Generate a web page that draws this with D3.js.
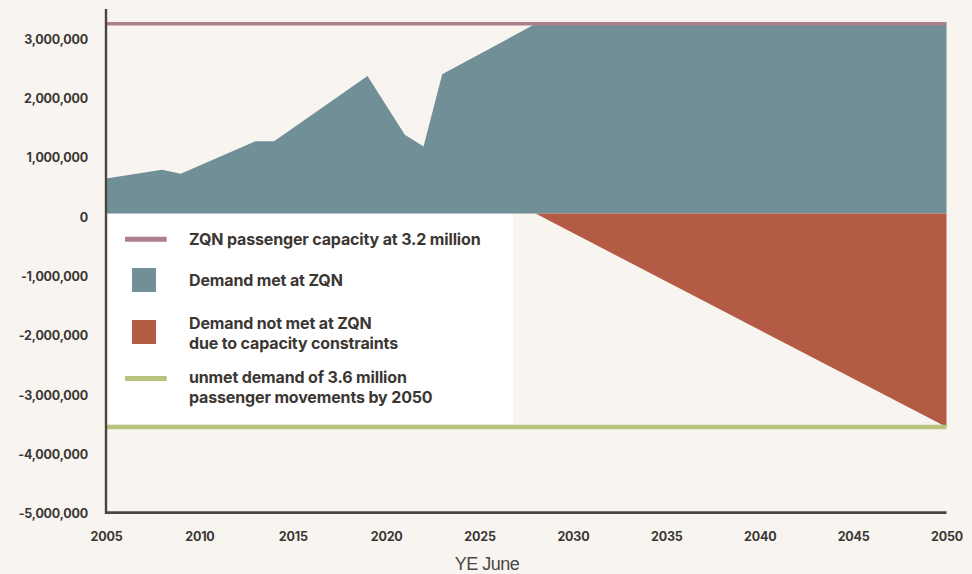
<!DOCTYPE html>
<html>
<head>
<meta charset="utf-8">
<script src="https://cdn.jsdelivr.net/npm/d3@7"></script>
<style>
  body { margin: 0; background: #f8f5f0; }
  svg { display: block; }
</style>
</head>
<body>
<div id="chart"></div>
<script>
// passengers, YE June
var demandYears = [2005, 2008, 2009, 2013, 2014, 2019, 2021, 2022, 2023, 2028, 2050];
var demandMet = [590000, 740000, 670000, 1220000, 1220000, 2320000, 1330000, 1130000, 2350000, 3200000, 3200000];

var unmetYears = [2028, 2050];
var unmetDemand = [0, -3600000];

var capacity = 3200000;
var unmetBy2050 = -3600000;

var xTicks = [2005, 2010, 2015, 2020, 2025, 2030, 2035, 2040, 2045, 2050];
var yTicks = [3000000, 2000000, 1000000, 0, -1000000, -2000000, -3000000, -4000000, -5000000];

var legendLabels = [
  ["ZQN passenger capacity at 3.2 million"],
  ["Demand met at ZQN"],
  ["Demand not met at ZQN", "due to capacity constraints"],
  ["unmet demand of 3.6 million", "passenger movements by 2050"]
];

var width = 972, height = 574;
var teal = "#718f96", red = "#b35b44", pink = "#ad808d", green = "#b8c37f";
var ink = "#3b3734", axisCol = "#4a4540";

var svg = d3.select("#chart").append("svg")
  .attr("width", width)
  .attr("height", height);

svg.append("rect")
  .attr("width", width).attr("height", height)
  .attr("fill", "#f8f5f0");

var x = d3.scaleLinear().domain([2005, 2050]).range([106, 946.5]);
var y = d3.scaleLinear().domain([-5000000, 3450000]).range([510, 9]);

var met = demandYears.map(function(yr, i) { return {year: yr, value: demandMet[i]}; });
var unmet = unmetYears.map(function(yr, i) { return {year: yr, value: unmetDemand[i]}; });

var area = d3.area()
  .x(function(d) { return x(d.year); })
  .y0(y(0))
  .y1(function(d) { return y(d.value); });

svg.append("path").datum(met)
  .attr("d", area)
  .attr("fill", teal);

svg.append("path").datum(unmet)
  .attr("d", area)
  .attr("fill", red);

// legend box sits on the plot
svg.append("rect")
  .attr("x", x(2005))
  .attr("y", y(0) + 0.5)
  .attr("width", 513 - x(2005))
  .attr("height", 423.5 - y(0))
  .attr("fill", "#ffffff");

// reference lines
svg.append("line")
  .attr("x1", x(2005)).attr("x2", x(2050))
  .attr("y1", y(capacity)).attr("y2", y(capacity))
  .attr("stroke", pink).attr("stroke-width", 3.5);

svg.append("line")
  .attr("x1", x(2005)).attr("x2", x(2050))
  .attr("y1", y(unmetBy2050)).attr("y2", y(unmetBy2050))
  .attr("stroke", green).attr("stroke-width", 4.5);

// axes
var fmt = d3.formatLocale({decimal: ".", thousands: ",", grouping: [3], currency: ["$", ""], minus: "-"}).format(",");

var yAxis = svg.append("g")
  .attr("transform", "translate(" + x(2005) + ",0)")
  .call(d3.axisLeft(y).tickValues(yTicks).tickFormat(fmt).tickSize(0).tickPadding(18));
yAxis.select(".domain").remove();
yAxis.selectAll("text")
  .attr("dy", null)
  .attr("y", 7.7)
  .style("font-family", "Inter, 'Liberation Sans', sans-serif")
  .style("font-weight", "700")
  .style("font-size", "12.5px")
  .style("letter-spacing", "-0.2px")
  .attr("fill", ink);

var xAxis = svg.append("g")
  .attr("transform", "translate(0," + y(-5000000) + ")")
  .call(d3.axisBottom(x).tickValues(xTicks).tickFormat(d3.format("d")).tickSize(0).tickPadding(0));
xAxis.select(".domain").remove();
xAxis.selectAll("text")
  .attr("dy", null)
  .attr("y", 30.7)
  .style("font-family", "Inter, 'Liberation Sans', sans-serif")
  .style("font-weight", "700")
  .style("font-size", "12.5px")
  .style("letter-spacing", "-0.2px")
  .attr("fill", ink);

svg.append("line")
  .attr("x1", x(2005)).attr("x2", x(2005))
  .attr("y1", 9).attr("y2", 514)
  .attr("stroke", axisCol).attr("stroke-width", 2.4);

svg.append("line")
  .attr("x1", x(2005) - 1).attr("x2", x(2050))
  .attr("y1", y(-5000000) + 2.7).attr("y2", y(-5000000) + 2.7)
  .attr("stroke", axisCol).attr("stroke-width", 2.7);

svg.append("text")
  .attr("x", 487).attr("y", 570)
  .attr("text-anchor", "middle")
  .style("font-family", "'Liberation Sans', Arial, sans-serif")
  .style("font-size", "18px")
  .style("letter-spacing", "-0.5px")
  .attr("fill", "#4a4744")
  .text("YE June");

// legend
var legend = svg.append("g");
var swatchY = [239.3, 280, 332, 378.5];
var textY = [244.7, 286, 329.3, 382.7];

legend.append("line")
  .attr("x1", 125).attr("x2", 166.7)
  .attr("y1", swatchY[0]).attr("y2", swatchY[0])
  .attr("stroke", pink).attr("stroke-width", 5);
legend.append("rect")
  .attr("x", 132).attr("y", swatchY[1] - 12)
  .attr("width", 24).attr("height", 24)
  .attr("fill", teal);
legend.append("rect")
  .attr("x", 132).attr("y", swatchY[2] - 12)
  .attr("width", 24).attr("height", 24)
  .attr("fill", red);
legend.append("line")
  .attr("x1", 125).attr("x2", 166.7)
  .attr("y1", swatchY[3]).attr("y2", swatchY[3])
  .attr("stroke", green).attr("stroke-width", 5);

legend.selectAll("text.lab")
  .data(legendLabels)
  .enter().append("text")
  .attr("class", "lab")
  .attr("x", 189)
  .attr("y", function(d, i) { return textY[i]; })
  .style("font-family", "Inter, 'Liberation Sans', sans-serif")
  .style("font-weight", "700")
  .style("font-size", "16px")
  .style("letter-spacing", "-0.15px")
  .attr("fill", ink)
  .each(function(lines) {
    var t = d3.select(this);
    lines.forEach(function(s, j) {
      t.append("tspan").attr("x", 189).attr("dy", j === 0 ? 0 : 20).text(s);
    });
  });
</script>
</body>
</html>
